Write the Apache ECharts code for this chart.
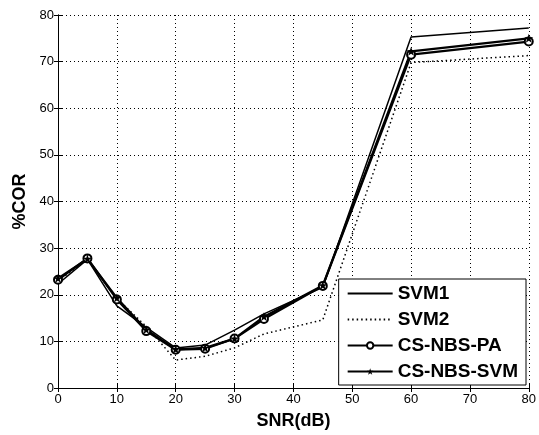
<!DOCTYPE html>
<html>
<head>
<meta charset="utf-8">
<script src="https://cdn.jsdelivr.net/npm/echarts@6/dist/echarts.min.js"></script>
<style>
  html, body { margin: 0; padding: 0; background: #fff; }
  #chart { width: 539px; height: 435px; }
</style>
</head>
<body>
<div id="chart"></div>
<script>
// SNR 取值
const snr = [0, 5, 10, 15, 20, 25, 30, 35, 45, 60, 80];
// 各方法的 %COR
const svm1 = [22.3, 27.6, 17.6, 13.0, 8.6, 9.2, 12.4, 15.9, 21.6, 75.3, 77.2];
const svm2 = [23.0, 27.5, 19.2, 13.2, 6.0, 6.8, 8.6, 11.6, 14.6, 69.8, 71.3];
const csNbsPa = [23.2, 27.8, 19.0, 12.2, 8.2, 8.4, 10.6, 14.8, 21.9, 71.5, 74.3];
const csNbsSvm = [23.5, 27.7, 19.3, 12.5, 8.3, 8.6, 10.6, 15.3, 22.0, 72.2, 75.0];
const xTicks = [0, 10, 20, 30, 40, 50, 60, 70, 80];
const yTicks = [0, 10, 20, 30, 40, 50, 60, 70, 80];

const pair = arr => snr.map((x, i) => [x, arr[i]]);

const starPath = 'path://M0,-10 L2.5,-3 L10,-3 L4,1.5 L6.5,9 L0,4.5 L-6.5,9 L-4,1.5 L-10,-3 L-2.5,-3 Z';

let myChart = echarts.init(document.getElementById('chart'));

const tickFont = { color: '#000', fontFamily: 'Liberation Sans, Arial', fontSize: 13 };
const nameFont = { color: '#000', fontFamily: 'Liberation Sans, Arial', fontSize: 18, fontWeight: 'bold' };
const boxAxis = (pos) => ({
    position: pos,
    axisLine: { show: true, lineStyle: { color: '#000', width: 1 } },
    axisTick: { show: true, inside: true, length: 4, lineStyle: { color: '#000' } },
    axisLabel: { show: false },
    splitLine: { show: false }
});

let option = {
    animation: false,
    backgroundColor: '#fff',
    grid: { left: 58, right: 7, top: 15, bottom: 43, containLabel: false },
    xAxis: [{
        type: 'value', min: 0, max: 80, interval: 10,
        name: 'SNR(dB)', nameLocation: 'middle', nameGap: 24,
        nameTextStyle: nameFont,
        axisLine: { show: true, lineStyle: { color: '#000', width: 1 } },
        axisTick: { show: true, inside: true, length: 4, lineStyle: { color: '#000' } },
        axisLabel: Object.assign({ margin: 5 }, tickFont),
        splitLine: { show: true, lineStyle: { color: '#000', type: [1, 3], width: 1 } }
    }, Object.assign({ type: 'value', min: 0, max: 80, interval: 10 }, boxAxis('top'))],
    yAxis: [{
        type: 'value', min: 0, max: 80, interval: 10,
        name: '%COR', nameLocation: 'middle', nameGap: 19,
        nameTextStyle: nameFont,
        axisLine: { show: true, lineStyle: { color: '#000', width: 1 } },
        axisTick: { show: true, inside: true, length: 4, lineStyle: { color: '#000' } },
        axisLabel: Object.assign({ margin: 4 }, tickFont),
        splitLine: { show: true, lineStyle: { color: '#000', type: [1, 3], width: 1 } }
    }, Object.assign({ type: 'value', min: 0, max: 80, interval: 10 }, boxAxis('right'))],
    legend: {
        orient: 'vertical',
        right: 13, bottom: 50,
        padding: [5, 8, 4, 8],
        itemGap: 7,
        itemWidth: 45, itemHeight: 8,
        backgroundColor: '#fff',
        borderColor: '#000', borderWidth: 1, borderRadius: 0,
        textStyle: { color: '#000', fontFamily: 'Liberation Sans, Arial', fontSize: 19, fontWeight: 'bold' },
        data: [
            { name: 'SVM1', itemStyle: { opacity: 0 } },
            { name: 'SVM2', itemStyle: { opacity: 0 } },
            { name: 'CS-NBS-PA', itemStyle: { color: '#000', opacity: 1 } },
            { name: 'CS-NBS-SVM', itemStyle: { color: '#000', opacity: 1 } }
        ]
    },
    series: [{
        name: 'SVM1', type: 'line', data: pair(svm1),
        symbol: 'none', color: '#000',
        lineStyle: { color: '#000', width: 1.5 }
    }, {
        name: 'SVM2', type: 'line', data: pair(svm2),
        symbol: 'none', color: '#000',
        lineStyle: { color: '#000', width: 1.5, type: [1.5, 3] }
    }, {
        name: 'CS-NBS-PA', type: 'line', data: pair(csNbsPa),
        symbol: 'emptyCircle', symbolSize: 8, color: '#000',
        itemStyle: { color: '#000', borderWidth: 2 },
        lineStyle: { color: '#000', width: 2.2 }
    }, {
        name: 'CS-NBS-SVM', type: 'line', data: pair(csNbsSvm),
        symbol: starPath, symbolSize: 9, color: '#000',
        itemStyle: { color: '#000' },
        lineStyle: { color: '#000', width: 2.2 }
    }]
};
myChart.setOption(option);
</script>
</body>
</html>
